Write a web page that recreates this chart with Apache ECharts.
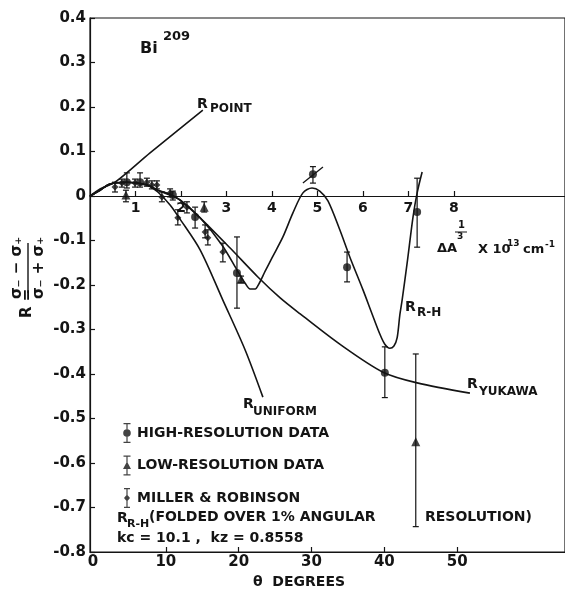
<!DOCTYPE html>
<html><head><meta charset="utf-8">
<script src="https://cdn.jsdelivr.net/npm/echarts@6/dist/echarts.min.js"></script>
<style>html,body{margin:0;padding:0;background:#fff}#c{width:565px;height:590px}</style>
</head><body><div id="c"></div>
<script>
// ---- tick labels ----
const thetaLabels = [0, 10, 20, 30, 40, 50];
const thetaTicks = [10, 20, 30, 40, 50];
const deltaLabels = [1, 2, 3, 4, 5, 6, 7, 8];

// ---- theory curves (x = Delta A^(1/3) x 10^13 cm^-1, y = R) ----
const rPoint = [[0,0],[0.22,0.016],[0.55,0.031],[1.32,0.097],[2.48,0.193]];
const rUniform = [[0,0],[0.22,0.013],[0.44,0.027],[0.81,0.031],[1.25,0.025],[1.49,0.009],[1.76,-0.020],[1.98,-0.052],[2.42,-0.121],[2.92,-0.234],[3.41,-0.346],[3.80,-0.452]];
const rYukawa = [[0,0],[0.22,0.013],[0.44,0.027],[0.81,0.031],[1.25,0.025],[1.49,0.013],[1.76,0.004],[1.98,-0.009],[2.42,-0.049],[3.08,-0.117],[3.69,-0.182],[4.18,-0.229],[4.62,-0.265],[5.49,-0.333],[6.44,-0.396],[7.19,-0.420],[8.35,-0.443]];
const rRH = [[0,0],[0.22,0.013],[0.44,0.027],[0.81,0.031],[1.25,0.025],[1.49,0.013],[1.76,0.002],[1.98,-0.009],[2.42,-0.049],[2.90,-0.110],[3.23,-0.166],[3.41,-0.196],[3.52,-0.209],[3.63,-0.209],[3.71,-0.198],[3.85,-0.169],[4.00,-0.139],[4.24,-0.092],[4.46,-0.038],[4.68,0.007],[4.88,0.018],[5.05,0.011],[5.23,-0.011],[5.49,-0.076],[5.71,-0.137],[6.00,-0.211],[6.20,-0.265],[6.37,-0.310],[6.48,-0.333],[6.59,-0.342],[6.68,-0.337],[6.75,-0.319],[6.81,-0.267],[6.86,-0.234],[6.97,-0.151],[7.10,-0.047],[7.19,0.007],[7.30,0.054]];
const slashMark = [[4.68,0.029],[5.12,0.065]];

// ---- data points: [x, R, low, high] ----
const highRes = [[0.81,0.031,0.018,0.052],[1.10,0.031,0.020,0.052],[1.82,0.002,-0.009,0.011],[2.31,-0.047,-0.072,-0.025],[3.23,-0.173,-0.252,-0.092],[4.90,0.049,0.029,0.066],[5.65,-0.160,-0.193,-0.126],[6.48,-0.397,-0.453,-0.339],[7.19,-0.036,-0.115,0.040]];
const lowRes = [[0.79,0.002,-0.013,0.013],[2.51,-0.025,-0.036,-0.013],[3.32,-0.187,-0.195,-0.180],[7.16,-0.552,-0.743,-0.355]];
const miller = [[0.55,0.020,0.009,0.031],[0.70,0.029,0.020,0.038],[0.99,0.029,0.020,0.038],[1.25,0.031,0.022,0.040],[1.36,0.025,0.016,0.034],[1.47,0.025,0.016,0.034],[1.58,-0.002,-0.013,0.009],[1.76,0.007,-0.002,0.016],[1.93,-0.049,-0.065,-0.031],[2.13,-0.025,-0.038,-0.013],[2.53,-0.081,-0.094,-0.065],[2.59,-0.094,-0.110,-0.076],[2.92,-0.126,-0.148,-0.106]];

const INK = '#141414';
const FF = 'DejaVu Sans';
const chart = echarts.init(document.getElementById('c'), null, {renderer: 'canvas'});

function errBar(params, api) {
  const x = api.value(0);
  const p1 = api.coord([x, api.value(3)]);
  const p2 = api.coord([x, api.value(2)]);
  const w = 3, st = {stroke: INK, lineWidth: 1.2};
  return {type: 'group', children: [
    {type: 'line', shape: {x1: p1[0], y1: p1[1], x2: p2[0], y2: p2[1]}, style: st},
    {type: 'line', shape: {x1: p1[0]-w, y1: p1[1], x2: p1[0]+w, y2: p1[1]}, style: st},
    {type: 'line', shape: {x1: p2[0]-w, y1: p2[1], x2: p2[0]+w, y2: p2[1]}, style: st}
  ]};
}
function curve(name, data) {
  return {type: 'line', name: name, xAxisIndex: 1, data: data, showSymbol: false, smooth: 0.3,
    lineStyle: {color: INK, width: 1.6}, silent: true, z: 3};
}
function bars(data) {
  return {type: 'custom', xAxisIndex: 1, renderItem: errBar, data: data, encode: {x: 0, y: [1, 2, 3]}, silent: true, z: 4};
}
function pts(name, data, symbol, size) {
  return {type: 'scatter', name: name, xAxisIndex: 1, symbol: symbol, symbolSize: size,
    data: data.map(d => [d[0], d[1]]), itemStyle: {color: INK}, silent: true, z: 5};
}
function txt(x, y, s, size, extra) {
  return Object.assign({type: 'text', x: x, y: y, style: {text: s, fill: INK, font: 'bold ' + size + 'px "' + FF + '"', textAlign: 'left', textVerticalAlign: 'middle', verticalAlign: 'middle'}}, extra || {});
}

const iconHigh = 'path://M4.4,0H5.6V20H4.4Z M1.5,0H8.5V1.3H1.5Z M1.5,18.7H8.5V20H1.5Z M5,6.2A3.8,3.8,0,1,1,4.99,6.2Z';
const iconLow = 'path://M4.4,0H5.6V20H4.4Z M1.5,0H8.5V1.3H1.5Z M1.5,18.7H8.5V20H1.5Z M5,6L9,13.5L1,13.5Z';
const iconMil = 'path://M4.4,0H5.6V20H4.4Z M2,0H8V1.3H2Z M2,18.7H8V20H2Z M5,6.5L8,10L5,13.5L2,10Z';

chart.setOption({
  animation: false,
  backgroundColor: '#fff',
  grid: {left: 90, top: 18, right: -1, bottom: 38, show: true, borderColor: INK, borderWidth: 1.2, containLabel: false},
  legend: {
    orient: 'vertical', left: 118, top: 418, itemWidth: 10, itemHeight: 20, itemGap: 12.5,
    selectedMode: false,
    textStyle: {color: INK, fontFamily: FF, fontWeight: 'bold', fontSize: 14},
    data: [
      {name: 'HIGH-RESOLUTION DATA', icon: iconHigh},
      {name: 'LOW-RESOLUTION DATA', icon: iconLow},
      {name: 'MILLER & ROBINSON', icon: iconMil}
    ]
  },
  xAxis: [
    {type: 'value', position: 'bottom', min: -0.41, max: 64.8,
      axisLine: {onZero: false, lineStyle: {color: INK, width: 1.2}},
      axisTick: {inside: true, length: 5, customValues: thetaTicks, lineStyle: {color: INK, width: 1.2}},
      axisLabel: {customValues: thetaLabels, margin: 3, color: INK, fontFamily: FF, fontWeight: 'bold', fontSize: 15},
      splitLine: {show: false}},
    {type: 'value', position: 'top', offset: -178, min: 0, max: 10.44,
      axisLine: {onZero: false, lineStyle: {color: INK, width: 1.2}},
      axisTick: {inside: false, length: 5, customValues: deltaLabels, lineStyle: {color: INK, width: 1.2}},
      axisLabel: {inside: true, customValues: deltaLabels, margin: 5, color: INK, fontFamily: FF, fontWeight: 'bold', fontSize: 14},
      splitLine: {show: false}}
  ],
  yAxis: {type: 'value', min: -0.8, max: 0.4, interval: 0.1,
    axisLine: {onZero: false, lineStyle: {color: INK, width: 1.2}},
    axisTick: {inside: true, length: 5, lineStyle: {color: INK, width: 1.2}},
    axisLabel: {margin: 4, color: INK, fontFamily: FF, fontWeight: 'bold', fontSize: 15,
      formatter: v => Math.abs(v) < 1e-9 ? '0' : v.toFixed(1)},
    splitLine: {show: false}},
  series: [
    curve('R POINT', rPoint),
    curve('R UNIFORM', rUniform),
    curve('R YUKAWA', rYukawa),
    curve('R R-H', rRH),
    {type: 'line', xAxisIndex: 1, data: slashMark, showSymbol: false, lineStyle: {color: INK, width: 1.3}, silent: true},
    bars(highRes), bars(lowRes), bars(miller),
    pts('HIGH-RESOLUTION DATA', highRes, 'circle', 8),
    pts('LOW-RESOLUTION DATA', lowRes, 'triangle', 9),
    pts('MILLER & ROBINSON', miller, 'diamond', 7)
  ],
  graphic: [
    txt(140, 49, 'Bi', 16),
    txt(163, 37, '209', 13),
    txt(197, 104, 'R', 14), txt(210, 109, 'POINT', 12),
    txt(243, 404, 'R', 14), txt(253, 412, 'UNIFORM', 12),
    txt(467, 384, 'R', 14), txt(479, 392, 'YUKAWA', 12),
    txt(405, 307, 'R', 14), txt(417, 313, 'R-H', 12),
    txt(117, 518, 'R', 14), txt(127, 524, 'R-H', 11),
    txt(149, 517, '(FOLDED OVER 1% ANGULAR', 14),
    txt(425, 517, 'RESOLUTION)', 14),
    txt(117, 538, 'kc = 10.1 ,  kz = 0.8558', 14),
    txt(253, 582, 'θ  DEGREES', 14),
    txt(437, 249, 'ΔA', 13),
    txt(458, 225, '1', 10),
    {type: 'line', shape: {x1: 455, y1: 232, x2: 467, y2: 232}, style: {stroke: INK, lineWidth: 1}},
    txt(457, 237, '3', 9),
    txt(478, 250, 'X 10', 13),
    txt(507, 244, '13', 9),
    txt(523, 250, 'cm', 13),
    txt(545, 245, '-1', 9),
    {type: 'group', x: 28, y: 268, rotation: Math.PI / 2, children: [
      txt(-50, -1, 'R =', 15),
      {type: 'line', shape: {x1: -25, y1: 0, x2: 25, y2: 0}, style: {stroke: INK, lineWidth: 1.4}},
      {type: 'text', x: 0, y: -11, style: {text: 'σ₋ − σ₊', fill: INK, font: 'bold 15px "' + FF + '"', textAlign: 'center', verticalAlign: 'middle'}},
      {type: 'text', x: 0, y: 11, style: {text: 'σ₋ + σ₊', fill: INK, font: 'bold 15px "' + FF + '"', textAlign: 'center', verticalAlign: 'middle'}}
    ]}
  ]
});
</script></body></html>
